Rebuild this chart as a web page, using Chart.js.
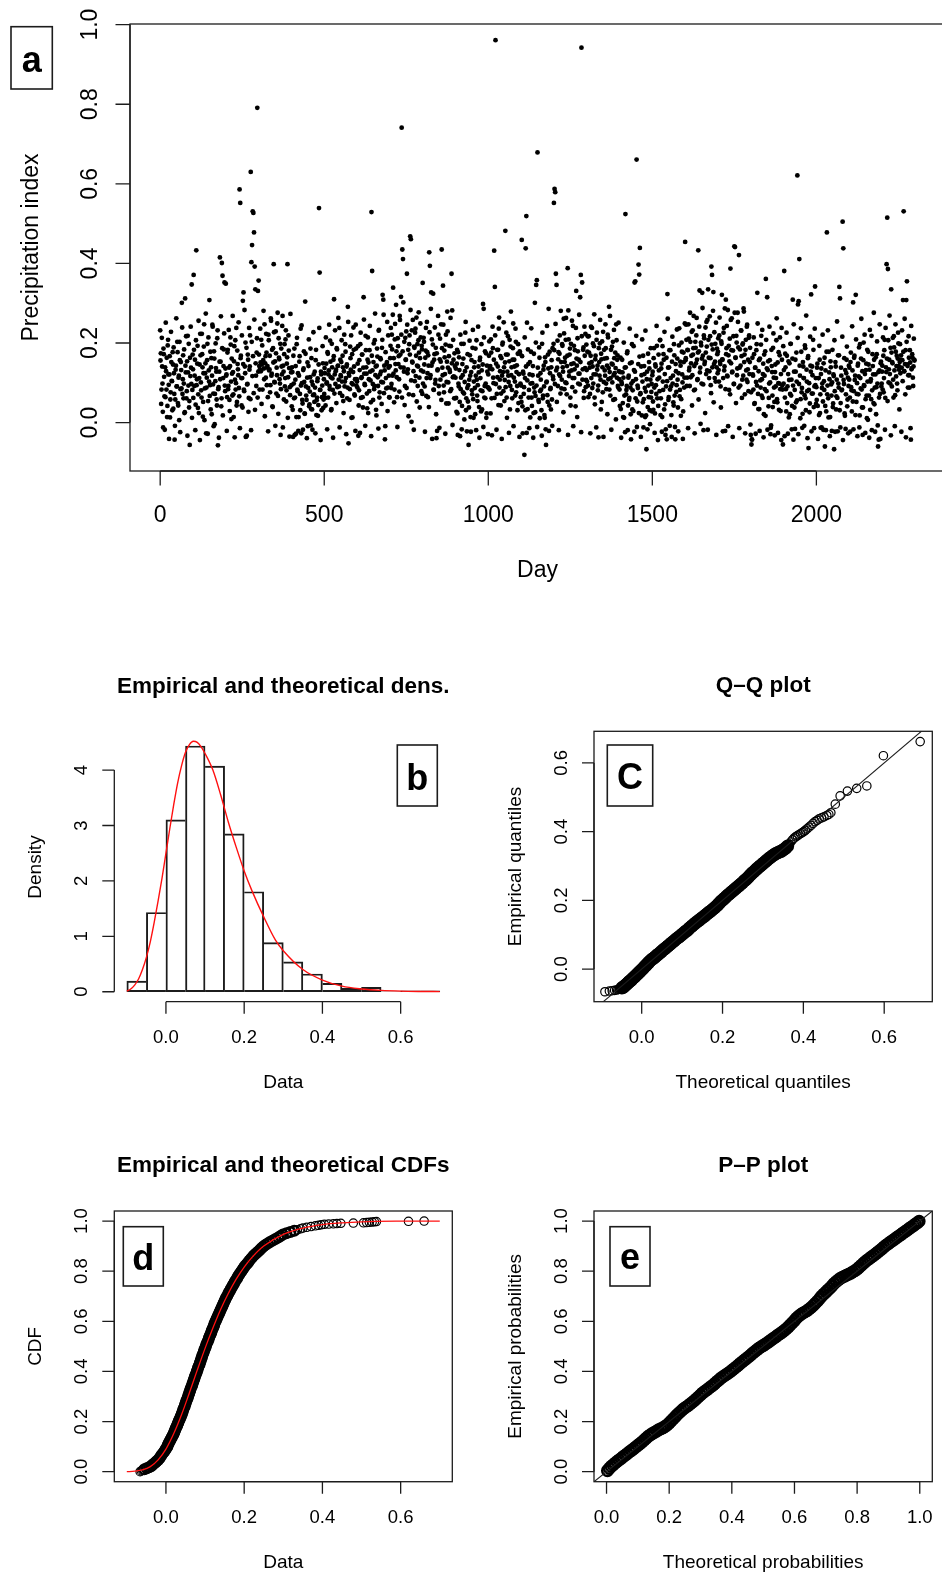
<!DOCTYPE html>
<html>
<head>
<meta charset="utf-8">
<script src="https://cdn.jsdelivr.net/npm/chart.js@4.4.1/dist/chart.umd.min.js"></script>
<style>
html, body { margin: 0; padding: 0; background: #fff; overflow: hidden; }
#page { position: relative; width: 942px; height: 1573px; overflow: hidden; }
canvas { position: absolute; }
</style>
</head>
<body>
<div id="page">
  <canvas id="pa" width="960" height="600" style="left:0px;top:0px"></canvas>
  <canvas id="pb" width="471" height="480" style="left:0px;top:620px"></canvas>
  <canvas id="pc" width="471" height="480" style="left:471px;top:620px"></canvas>
  <canvas id="pd" width="471" height="473" style="left:0px;top:1100px"></canvas>
  <canvas id="pe" width="471" height="473" style="left:471px;top:1100px"></canvas>
</div>
<script>
// panel a: precipitation index x1000, even days (0, 2, 4 ... 2298)
const precipEven = [
  232,174,83,141,27,186,115,-18,64,129,163,42,208,95,121,13,76,152,104,177,35,124,-43,58,143,91,203,49,113,6,157,84,132,301,72,169,98,24,312,126,61,154,218,93,38,-56,117,138,347,82,
  134,371,92,158,45,433,109,193,71,24,146,223,101,63,172,15,124,247,86,149,-27,113,198,54,131,308,94,33,162,118,241,73,179,-4,104,137,58,212,-57,89,128,415,153,41,401,369,112,184,352,79,
  349,121,64,183,92,138,29,214,103,161,68,127,14,192,108,83,238,52,147,119,87,586,552,168,43,112,306,327,79,141,201,-35,-33,97,158,62,133,219,630,403,446,531,527,478,392,335,118,176,791,331,
  357,142,134,151,208,146,83,157,136,247,149,113,176,138,64,221,131,168,94,256,123,41,187,398,102,154,229,73,119,276,22,163,109,198,84,141,243,-12,128,172,91,209,53,148,398,114,181,-35,69,137,
  94,139,32,168,61,-31,108,-28,197,83,124,14,153,72,236,-27,99,48,132,179,23,304,91,57,113,-9,142,41,78,186,34,103,-18,69,121,52,88,157,19,63,111,44,539,377,82,128,31,93,149,58,
  72,124,43,148,101,177,63,131,92,206,114,34,139,82,158,310,121,97,133,187,89,143,108,238,74,119,152,103,168,54,129,91,197,112,141,61,291,-52,118,84,162,219,99,13,127,183,71,109,246,93,
  103,148,-33,81,132,197,62,114,171,38,315,123,94,218,139,73,158,24,109,182,128,51,529,381,97,152,84,207,119,32,143,166,92,231,63,121,159,102,188,321,309,74,131,-9,112,147,253,88,138,64,
  142,193,87,221,118,339,162,83,248,131,179,64,212,147,109,268,171,316,741,435,411,138,203,92,158,229,374,124,183,71,219,468,461,2,153,258,129,191,104,236,168,53,197,141,277,113,162,214,79,184,
  351,128,203,91,163,238,112,177,64,143,428,394,119,327,209,151,324,82,172,98,188,-39,-21,134,221,73,159,108,247,435,138,344,93,181,122,196,48,153,229,101,167,133,79,192,374,282,114,158,61,142,
  113,62,148,23,177,91,132,-34,84,198,42,119,161,73,102,226,31,139,87,53,-56,108,169,14,127,81,188,59,103,152,21,118,207,68,94,141,39,157,112,28,131,79,298,286,63,179,98,12,143,89,
  121,168,83,142,209,61,134,187,99,432,341,961,148,72,114,183,236,88,129,43,162,118,201,79,139,107,482,171,63,128,217,102,154,33,191,119,82,158,249,113,141,68,203,127,92,173,49,122,179,98,
  93,459,41,128,72,-81,112,438,519,251,34,147,82,121,13,178,63,99,142,24,88,301,67,346,358,679,118,52,163,79,108,31,198,61,133,91,12,152,-56,103,69,171,286,43,124,87,139,58,187,109,
  552,587,579,374,346,138,92,177,121,219,73,152,108,193,128,261,84,163,208,99,142,388,282,117,171,63,198,131,89,243,149,112,182,41,331,143,212,98,158,123,315,371,942,352,134,189,79,168,223,107,
  132,178,93,217,149,72,168,112,238,141,98,192,63,159,121,208,133,81,-37,152,199,108,173,52,139,228,102,161,118,187,84,143,221,109,291,127,68,183,148,101,203,119,162,59,137,247,113,169,88,129,
  83,127,34,102,158,49,113,12,138,524,71,92,179,43,118,62,149,21,98,197,81,29,132,352,355,109,661,53,87,397,372,439,74,141,18,103,168,59,122,14,78,-67,128,39,93,152,31,108,63,97,
  119,53,162,88,23,141,72,193,109,42,131,79,208,61,148,14,103,172,33,122,-31,91,-42,323,138,64,182,83,112,19,153,98,51,197,68,-42,129,94,161,38,124,237,82,143,59,178,101,28,152,113,
  454,162,208,113,182,247,131,92,203,149,228,119,171,268,142,83,188,219,158,109,433,179,332,138,201,98,326,168,-19,212,153,239,122,191,258,335,163,129,217,94,392,371,184,328,147,112,198,251,139,172,
  178,132,219,153,91,204,321,158,112,238,141,-21,309,187,118,283,169,82,211,387,149,262,128,181,97,443,441,163,218,119,276,189,421,138,93,232,167,108,199,287,152,71,183,131,241,102,158,213,122,188,
  -31,-55,-43,121,83,172,49,138,102,197,326,72,129,34,161,88,218,109,62,148,21,118,179,361,79,315,132,41,98,157,-29,-7,142,68,188,113,52,127,91,207,59,151,99,32,169,84,122,238,93,-55,
  98,381,63,139,28,168,91,122,13,149,72,198,108,42,309,-43,128,82,158,51,103,621,297,305,411,118,59,178,87,22,141,112,69,187,31,133,79,162,-64,99,48,143,322,73,119,208,39,91,342,112,
  89,138,42,112,19,158,71,122,-12,98,53,149,82,-60,131,28,478,93,61,178,109,14,139,68,101,39,121,-67,79,152,33,108,62,169,88,341,312,49,118,83,505,438,97,23,132,71,158,41,113,92,
  108,63,152,89,28,131,302,79,168,118,321,52,99,143,71,189,18,112,161,83,129,38,201,92,122,59,148,11,103,178,68,133,32,109,218,81,142,49,158,88,121,21,172,98,-60,-43,131,72,149,91,
  128,83,168,112,208,62,139,398,515,386,101,158,122,188,335,91,149,108,217,131,69,178,142,98,161,199,133,152,124,169,138,157,308,531,129,147,182,308,355,142,119,163,88,151,-43,134,172,113,141,158
];
// panel a: precipitation index x1000, odd days (1, 3, 5 ... 2299)
const precipOdd = [
  156,47,213,98,-12,172,66,139,251,83,14,194,121,-41,167,58,228,105,31,146,189,72,-8,133,262,91,177,43,118,203,-24,152,86,239,109,61,184,26,143,217,79,-33,126,198,54,163,241,97,12,171,
  62,183,118,-19,207,94,148,37,256,112,-44,169,81,223,139,52,191,6,124,274,88,157,-28,214,103,67,178,139,21,246,96,-9,161,72,199,128,43,232,84,-38,153,109,267,61,187,18,142,224,93,136,
  118,-21,176,84,233,57,142,196,9,123,268,71,154,-37,207,99,43,181,134,252,66,-14,162,112,219,38,147,83,283,124,-36,188,96,171,27,238,141,59,-19,203,117,167,74,259,32,149,92,212,63,128,
  171,83,236,129,47,194,152,281,109,16,167,223,94,142,-22,207,134,76,262,118,183,39,151,227,101,-8,174,138,249,67,212,159,98,-31,186,121,268,143,58,197,112,232,81,164,12,219,137,89,273,126,
  41,127,-36,98,186,63,142,14,213,79,-21,118,167,31,93,244,57,-18,136,102,22,173,68,-39,151,87,209,46,114,-7,162,33,95,227,71,128,-27,183,56,104,17,146,238,82,-44,121,64,192,37,109,
  137,62,214,98,-17,173,121,246,84,153,31,198,111,-38,167,73,232,129,49,184,142,263,91,-12,158,116,207,67,139,24,221,103,178,-29,146,88,253,124,57,191,133,12,172,96,239,141,68,-21,186,109,
  88,192,43,157,-26,226,112,171,64,138,259,97,-8,182,123,36,214,151,79,243,106,-34,168,131,57,199,92,274,141,18,186,114,-15,233,76,162,128,47,208,101,271,143,-42,177,86,152,29,219,118,63,
  162,238,97,184,271,123,51,209,147,296,114,-11,192,167,78,258,139,221,63,179,302,128,44,213,158,87,246,134,16,197,171,283,106,232,151,69,-18,188,226,117,264,143,92,207,176,38,249,131,193,72,
  98,213,146,-23,181,67,253,124,169,39,227,112,286,143,-41,196,83,158,239,107,21,174,131,268,92,-13,211,153,57,187,119,246,76,164,-28,221,102,279,138,48,193,127,263,84,149,-6,208,116,174,61,
  136,27,183,-31,98,164,52,221,113,-17,147,76,198,8,129,253,61,-22,172,94,38,206,118,-23,157,71,233,12,139,87,186,-19,108,54,241,126,-38,163,81,197,33,146,-11,214,92,61,174,23,128,-29,
  87,204,136,23,176,-32,241,113,158,62,219,97,-18,183,141,44,264,108,167,73,-41,196,127,252,54,151,89,226,12,171,118,-26,208,92,279,139,61,187,-9,158,103,236,76,144,31,197,122,-36,173,64,
  52,167,-27,123,89,214,31,141,-26,106,184,63,-14,152,98,237,42,119,-38,173,76,26,201,93,-11,138,57,189,11,124,83,-33,226,68,143,19,164,-17,101,243,52,136,-21,178,84,33,157,-8,116,198,
  182,97,248,131,52,206,159,-19,173,117,281,86,197,139,26,224,152,101,263,71,168,-31,209,128,186,43,147,256,112,-9,193,134,78,238,161,14,179,123,271,96,152,-24,217,108,183,62,241,137,89,196,
  103,217,64,176,138,-27,241,152,87,199,121,272,46,168,-12,226,143,93,187,118,258,33,159,204,76,-36,183,131,247,98,162,21,214,137,83,268,112,-18,191,146,57,233,124,176,8,207,158,92,251,109,
  42,163,-38,97,126,14,201,68,-24,139,82,174,-19,113,57,236,88,-42,151,33,104,192,-23,128,61,218,-11,93,147,24,166,71,-36,119,209,51,-12,142,87,231,18,109,-17,173,64,136,-4,187,77,28,
  128,32,187,-26,146,94,243,61,-44,171,113,207,19,136,-23,192,82,158,228,46,-17,163,104,261,57,139,-8,182,91,-36,216,118,43,169,-11,147,77,234,108,-22,194,66,153,17,201,121,-41,176,88,249,
  157,246,92,183,-14,211,138,276,114,168,43,232,187,81,-27,203,149,263,107,176,58,241,126,-3,194,161,288,96,219,147,24,176,253,131,-18,208,112,267,162,74,196,139,281,51,227,153,103,-31,186,124,
  212,103,264,147,38,198,159,-22,226,131,287,84,172,243,116,-9,193,154,71,258,182,126,-36,217,97,276,163,49,201,136,253,88,-14,184,143,231,62,196,118,279,171,-27,208,108,246,134,79,219,152,-5,
  76,-42,163,118,214,47,138,-28,182,93,249,34,157,-21,106,196,68,233,122,-37,171,84,17,208,136,-18,154,62,241,101,-13,183,127,39,224,88,-32,146,112,262,51,-26,177,98,214,29,-44,158,83,192,
  132,-34,173,84,226,49,-28,154,107,21,198,68,-17,161,93,247,38,-16,128,176,56,213,-29,97,143,11,237,76,-13,152,112,-8,194,61,269,103,-39,167,82,26,216,128,-22,141,73,183,-14,236,94,47,
  57,148,-41,112,193,24,-13,136,87,221,-18,104,163,42,-19,178,71,232,13,126,-34,154,96,-21,183,48,117,207,-23,141,66,254,-22,98,169,31,-12,138,81,216,-44,107,162,17,-16,124,191,58,-27,143,
  138,-23,176,81,242,53,-17,163,107,19,209,72,-34,148,116,-12,197,86,261,38,-31,157,94,221,-26,132,68,183,7,146,-38,233,103,59,-19,172,121,276,46,-23,164,89,204,-7,127,63,247,-41,153,98,
  143,214,76,182,-18,238,127,161,54,207,134,269,98,-32,176,152,213,63,189,-9,247,116,168,81,226,142,33,197,158,-23,232,104,178,129,261,71,-37,203,146,88,217,119,182,-14,243,137,163,92,211,156
];

// panel b: histogram and fitted density
const binEdges = [-0.1,-0.05,0,0.05,0.1,0.15,0.2,0.25,0.3,0.35,0.4,0.45,0.5,0.55,0.6,0.65,0.7];
const binDensity = [0.19,1.43,3.10,4.435,4.07,2.85,1.805,0.885,0.54,0.32,0.15,0.06,0.08,0.012,0.018,0.018];
const densX = [-0.1,-0.09,-0.08,-0.07,-0.06,-0.05,-0.04,-0.03,-0.02,-0.01,0,0.01,0.02,0.03,0.04,0.05,0.06,0.07,0.08,0.09,0.1,0.12,0.14,0.16,0.18,0.2,0.22,0.25,0.28,0.3,0.35,0.4,0.45,0.5,0.55,0.6,0.65,0.7];
const densY = [0.01,0.05,0.12,0.23,0.4,0.62,0.9,1.25,1.64,2.05,2.5,2.95,3.38,3.77,4.08,4.32,4.46,4.52,4.5,4.42,4.3,4.0,3.55,3.05,2.6,2.18,1.82,1.35,0.93,0.74,0.4,0.21,0.1,0.05,0.024,0.011,0.005,0.002];

// panel c: Q-Q pairs
const qqTheo = [-0.091,-0.080,-0.073,-0.067,-0.062,-0.058,-0.055,-0.052,-0.049,-0.046,-0.043,-0.040,-0.037,-0.034,-0.031,-0.028,-0.025,-0.022,-0.019,-0.016,-0.013,-0.010,-0.007,-0.004,-0.001,0.002,0.005,0.008,0.011,0.014,
  0.017,0.021,0.025,0.029,0.033,0.037,0.041,0.045,0.049,0.053,0.057,0.061,0.065,0.069,0.073,0.077,0.081,0.085,0.089,0.093,0.097,0.101,0.105,0.109,0.113,0.117,0.121,0.125,0.129,0.133,
  0.137,0.141,0.145,0.149,0.153,0.157,0.161,0.165,0.169,0.173,0.177,0.181,0.185,0.189,0.193,0.197,0.201,0.205,0.209,0.213,0.217,0.221,0.225,0.229,0.233,0.237,0.241,0.245,0.249,0.253,
  0.257,0.261,0.265,0.269,0.273,0.277,0.281,0.285,0.289,0.293,0.297,0.301,0.305,0.309,0.313,0.317,0.321,0.325,0.329,0.333,0.337,0.341,0.345,0.349,0.353,0.357,0.361,0.365,0.369,0.373,
  0.377,0.381,0.385,0.389,0.393,0.397,0.401,0.405,0.409,0.414,0.419,0.424,0.429,0.434,0.439,
  0.445,0.451,0.458,0.463,0.468,0.479,0.491,0.509,0.532,0.557,0.598,0.689];
const qqEmp = [-0.066,-0.064,-0.063,-0.062,-0.061,-0.059,-0.058,-0.057,-0.055,-0.053,-0.050,-0.047,-0.044,-0.040,-0.037,-0.034,-0.031,-0.027,-0.024,-0.021,-0.017,-0.014,-0.010,-0.007,-0.003,0.000,0.004,0.008,0.011,0.015,
  0.019,0.024,0.028,0.031,0.035,0.040,0.043,0.047,0.051,0.056,0.059,0.063,0.067,0.071,0.075,0.079,0.083,0.087,0.091,0.094,0.098,0.102,0.106,0.110,0.113,0.118,0.122,0.126,0.130,0.134,
  0.138,0.141,0.145,0.149,0.152,0.156,0.160,0.164,0.167,0.171,0.175,0.179,0.183,0.188,0.193,0.198,0.202,0.206,0.211,0.215,0.219,0.223,0.227,0.231,0.235,0.239,0.243,0.247,0.251,0.256,
  0.260,0.264,0.269,0.274,0.279,0.283,0.287,0.292,0.296,0.300,0.304,0.308,0.312,0.316,0.320,0.324,0.327,0.331,0.334,0.337,0.339,0.341,0.343,0.346,0.349,0.353,0.358,0.364,0.370,0.376,
  0.381,0.385,0.388,0.391,0.394,0.397,0.400,0.404,0.408,0.413,0.418,0.424,0.429,0.433,0.437,
  0.440,0.443,0.447,0.450,0.455,0.480,0.504,0.518,0.526,0.533,0.621,0.662];

// panel d: empirical CDF points and fitted CDF
const ecdfX = [-0.066,-0.063,-0.060,-0.055,-0.049,-0.043,-0.038,-0.035,-0.031,-0.027,-0.024,-0.020,-0.017,-0.014,-0.012,-0.009,-0.006,-0.003,-0.001,0.002,
  0.004,0.005,0.007,0.009,0.011,0.013,0.015,0.017,0.019,0.021,0.022,0.024,0.025,0.027,0.029,0.030,0.032,0.033,0.035,0.037,
  0.038,0.040,0.041,0.043,0.044,0.046,0.048,0.049,0.051,0.052,0.054,0.056,0.057,0.059,0.060,0.062,0.063,0.065,0.067,0.068,
  0.070,0.071,0.073,0.074,0.076,0.078,0.079,0.081,0.082,0.084,0.086,0.087,0.089,0.090,0.092,0.093,0.095,0.097,0.098,0.100,
  0.102,0.103,0.105,0.107,0.109,0.110,0.112,0.114,0.116,0.117,0.119,0.121,0.123,0.124,0.126,0.128,0.130,0.132,0.134,0.136,
  0.138,0.140,0.142,0.144,0.146,0.148,0.150,0.152,0.154,0.157,0.159,0.161,0.164,0.166,0.169,0.171,0.174,0.176,0.179,0.182,
  0.184,0.187,0.190,0.193,0.196,0.199,0.202,0.206,0.210,0.213,0.217,0.221,0.225,0.230,0.235,0.240,0.244,0.249,0.254,0.260,
  0.266,0.273,0.280,0.287,0.293,0.299,0.308,0.318,0.328,0.336,0.344,0.350,0.360,0.371,0.382,0.390,0.397,0.405,0.416,0.428,
  0.437,0.447,0.479,0.505,0.513,0.520,0.527,0.533,0.538,0.620,0.660];
const ecdfP = [0,0.003,0.006,0.010,0.014,0.018,0.022,0.027,0.032,0.037,0.042,0.047,0.053,0.059,0.065,0.071,0.077,0.083,0.089,0.095,
  0.101,0.107,0.113,0.119,0.125,0.131,0.137,0.143,0.149,0.155,0.161,0.167,0.173,0.179,0.185,0.191,0.197,0.203,0.209,0.215,
  0.221,0.227,0.233,0.240,0.247,0.254,0.261,0.268,0.275,0.282,0.289,0.296,0.303,0.310,0.317,0.324,0.331,0.338,0.345,0.352,
  0.359,0.366,0.373,0.380,0.387,0.394,0.401,0.408,0.415,0.422,0.429,0.436,0.443,0.450,0.457,0.464,0.471,0.478,0.485,0.492,
  0.499,0.506,0.513,0.520,0.527,0.534,0.541,0.548,0.555,0.562,0.569,0.576,0.583,0.590,0.597,0.604,0.611,0.618,0.625,0.632,
  0.639,0.646,0.653,0.660,0.667,0.674,0.681,0.688,0.695,0.702,0.709,0.716,0.723,0.730,0.737,0.744,0.751,0.758,0.765,0.772,
  0.779,0.786,0.793,0.800,0.807,0.814,0.821,0.828,0.835,0.842,0.849,0.856,0.863,0.870,0.877,0.884,0.891,0.898,0.904,0.910,
  0.916,0.922,0.928,0.934,0.940,0.946,0.951,0.956,0.961,0.965,0.969,0.972,0.975,0.978,0.981,0.983,0.985,0.987,0.988,0.989,
  0.990,0.991,0.992,0.993,0.994,0.995,0.996,0.997,0.998,0.999,1.000];
const cdfX = [-0.1,-0.08,-0.06,-0.04,-0.02,0,0.02,0.04,0.06,0.08,0.1,0.12,0.14,0.16,0.18,0.2,0.22,0.25,0.3,0.35,0.4,0.45,0.5,0.6,0.7];
const cdfY = [0,0.002,0.007,0.02,0.047,0.09,0.152,0.228,0.315,0.405,0.492,0.573,0.648,0.713,0.769,0.816,0.855,0.9,0.947,0.972,0.986,0.993,0.997,0.9995,1.0];

// panel e: P-P pairs
const ppTheo = [0.003,0.009,0.015,0.021,0.027,0.034,0.040,0.047,0.053,0.060,0.066,0.073,0.080,0.086,0.093,0.100,0.106,0.113,0.120,0.126,
  0.133,0.140,0.146,0.153,0.160,0.166,0.173,0.180,0.186,0.193,0.200,0.206,0.213,0.220,0.226,0.233,0.240,0.246,0.253,0.260,
  0.266,0.273,0.280,0.286,0.293,0.300,0.306,0.313,0.320,0.326,0.333,0.340,0.346,0.353,0.360,0.366,0.373,0.380,0.386,0.393,
  0.400,0.406,0.413,0.420,0.426,0.433,0.440,0.446,0.453,0.460,0.466,0.473,0.480,0.486,0.493,0.500,0.506,0.513,0.520,0.526,
  0.533,0.540,0.546,0.553,0.560,0.566,0.573,0.580,0.586,0.593,0.600,0.606,0.613,0.620,0.626,0.633,0.640,0.646,0.653,0.660,
  0.666,0.673,0.680,0.686,0.693,0.700,0.706,0.713,0.720,0.726,0.733,0.740,0.746,0.753,0.760,0.766,0.773,0.780,0.786,0.793,
  0.800,0.806,0.813,0.820,0.826,0.833,0.840,0.846,0.853,0.860,0.866,0.873,0.880,0.886,0.893,0.900,0.906,0.913,0.920,0.926,
  0.933,0.940,0.946,0.953,0.960,0.966,0.973,0.980,0.986,0.993,0.998];
const ppEmp = [0.004,0.013,0.021,0.027,0.034,0.041,0.047,0.053,0.060,0.066,0.072,0.079,0.085,0.091,0.098,0.105,0.111,0.118,0.126,0.133,
  0.141,0.147,0.152,0.157,0.162,0.167,0.171,0.175,0.180,0.186,0.194,0.202,0.211,0.220,0.228,0.236,0.244,0.251,0.257,0.263,
  0.269,0.276,0.283,0.290,0.298,0.306,0.313,0.320,0.326,0.332,0.339,0.345,0.352,0.360,0.367,0.374,0.380,0.386,0.391,0.397,
  0.404,0.410,0.417,0.424,0.431,0.438,0.445,0.451,0.458,0.465,0.472,0.479,0.486,0.492,0.498,0.503,0.508,0.514,0.520,0.526,
  0.532,0.538,0.544,0.550,0.556,0.562,0.569,0.577,0.585,0.594,0.603,0.612,0.620,0.627,0.632,0.637,0.642,0.648,0.655,0.663,
  0.671,0.680,0.690,0.699,0.708,0.716,0.724,0.732,0.741,0.750,0.758,0.765,0.771,0.776,0.780,0.784,0.788,0.792,0.797,0.802,
  0.808,0.815,0.823,0.831,0.838,0.845,0.851,0.857,0.863,0.870,0.876,0.883,0.890,0.897,0.904,0.910,0.916,0.922,0.928,0.934,
  0.940,0.946,0.952,0.958,0.964,0.970,0.976,0.982,0.988,0.994,0.999];

const FONT = '"Liberation Sans", Arial, Helvetica, sans-serif';
const ink = '#1c1c1c';

function vText(ctx, txt, x, y) {
  ctx.save();
  ctx.translate(x, y);
  ctx.rotate(-Math.PI / 2);
  ctx.fillText(txt, 0, 0);
  ctx.restore();
}

// R-style axes, titles and panel tag
const rPlot = {
  id: 'rPlot',
  afterDatasetsDraw(chart, args, o) {
    const ctx = chart.ctx, a = chart.chartArea;
    const xs = chart.scales.x, ys = chart.scales.y;
    ctx.save();
    ctx.strokeStyle = ink;
    ctx.fillStyle = '#000';
    ctx.lineWidth = 1.3;
    if (o.box) ctx.strokeRect(a.left, a.top, a.right - a.left, a.bottom - a.top);
    const xp = o.xTicks.map(v => xs.getPixelForValue(v));
    const yp = o.yTicks.map(v => ys.getPixelForValue(v));
    ctx.beginPath();
    ctx.moveTo(xp[0], a.bottom); ctx.lineTo(xp[xp.length - 1], a.bottom);
    xp.forEach(p => { ctx.moveTo(p, a.bottom); ctx.lineTo(p, a.bottom + o.tick); });
    ctx.moveTo(a.left, yp[0]); ctx.lineTo(a.left, yp[yp.length - 1]);
    yp.forEach(p => { ctx.moveTo(a.left, p); ctx.lineTo(a.left - o.tick, p); });
    ctx.stroke();

    ctx.textAlign = 'center';
    ctx.textBaseline = 'alphabetic';
    ctx.font = o.tickSize + 'px ' + FONT;
    xp.forEach((p, i) => ctx.fillText(o.xLabels[i], p, a.bottom + o.xLabelY));
    yp.forEach((p, i) => vText(ctx, o.yLabels[i], a.left - o.yLabelX, p));

    const cx = (a.left + a.right) / 2, cy = (a.top + a.bottom) / 2;
    ctx.font = o.titleSize + 'px ' + FONT;
    ctx.fillText(o.xTitle, cx, a.bottom + o.xTitleY);
    vText(ctx, o.yTitle, a.left - o.yTitleX, cy);
    if (o.main) {
      ctx.font = 'bold 22.5px ' + FONT;
      ctx.fillText(o.main, cx, a.top - o.mainY);
    }
    const t = o.tag;
    ctx.lineWidth = 1.6;
    ctx.strokeRect(t.x, t.y, t.w, t.h);
    ctx.font = 'bold 36px ' + FONT;
    ctx.fillText(t.text, t.x + t.w / 2, t.base);
    ctx.restore();
  }
};

function rChart(id, type, datasets, xr, yr, pad, axes) {
  return new Chart(document.getElementById(id), {
    type: type,
    data: { datasets: datasets },
    options: {
      responsive: false,
      animation: false,
      events: [],
      layout: { padding: pad },
      scales: {
        x: { type: 'linear', min: xr[0], max: xr[1], offset: false, display: false },
        y: { type: 'linear', min: yr[0], max: yr[1], display: false }
      },
      plugins: { legend: { display: false }, tooltip: { enabled: false }, rPlot: axes }
    },
    plugins: [rPlot]
  });
}

const small = { tick: 12, tickSize: 18.5, titleSize: 19, xLabelY: 41.3, yLabelX: 27, xTitleY: 86, yTitleX: 73, mainY: 39.5 };
const pairs = (xs, ys) => xs.map((x, i) => ({ x: x, y: ys[i] }));
// open circles; where the sample is dense the circles pile up into a solid band
function circles(isDense, r, w) {
  return {
    pointBackgroundColor: 'rgba(0,0,0,0)', pointBorderColor: '#000',
    pointRadius: c => isDense(c.dataIndex) ? r : 4.2,
    pointBorderWidth: c => isDense(c.dataIndex) ? w : 1.2
  };
}

// a
const dayPoints = [];
precipEven.forEach((v, i) => dayPoints.push({ x: 2 * i, y: v / 1000 }));
precipOdd.forEach((v, i) => dayPoints.push({ x: 2 * i + 1, y: v / 1000 }));
rChart('pa', 'scatter', [{
  data: dayPoints, pointRadius: 2.4, pointBackgroundColor: '#000', pointBorderWidth: 0
}], [-92, 2392], [-0.1216, 1.0016], { left: 130, right: 15, top: 24, bottom: 129 }, {
  box: true, tick: 14.5, tickSize: 23, titleSize: 23,
  xTicks: [0, 500, 1000, 1500, 2000], xLabels: ['0', '500', '1000', '1500', '2000'],
  yTicks: [0, 0.2, 0.4, 0.6, 0.8, 1.0], yLabels: ['0.0', '0.2', '0.4', '0.6', '0.8', '1.0'],
  xLabelY: 51.3, yLabelX: 33, xTitleY: 106, yTitleX: 92,
  xTitle: 'Day', yTitle: 'Precipitation index',
  tag: { x: 11, y: 26.7, w: 41.3, h: 62.3, base: 72, text: 'a' }
});

// b: shared bar edges drawn once, by the taller neighbour
const bw = 1.3;
rChart('pb', 'bar', [
  {
    type: 'line', data: pairs(densX, densY), borderColor: '#ff1010', borderWidth: 1.4,
    pointRadius: 0, cubicInterpolationMode: 'monotone', fill: false
  },
  {
    type: 'bar',
    data: binDensity.map((d, i) => ({ x: (binEdges[i] + binEdges[i + 1]) / 2, y: d })),
    backgroundColor: 'rgba(0,0,0,0)', borderColor: ink, borderSkipped: false,
    borderWidth: c => {
      const i = c.dataIndex, d = binDensity;
      return {
        top: bw, bottom: bw,
        left: i > 0 && d[i - 1] >= d[i] ? 0 : bw,
        right: i < d.length - 1 && d[i + 1] > d[i] ? 0 : bw
      };
    },
    categoryPercentage: 1, barPercentage: 1
  }
], [-0.132, 0.732], [-0.18, 4.68], { left: 114.3, right: 18.7, top: 112.4, bottom: 98.3 }, Object.assign({}, small, {
  box: false,
  xTicks: [0, 0.2, 0.4, 0.6], xLabels: ['0.0', '0.2', '0.4', '0.6'],
  yTicks: [0, 1, 2, 3, 4], yLabels: ['0', '1', '2', '3', '4'],
  xTitle: 'Data', yTitle: 'Density', main: 'Empirical and theoretical dens.',
  tag: { x: 397.3, y: 125, w: 40, h: 61, base: 170, text: 'b' }
}));

// c
rChart('pc', 'scatter', [
  { type: 'line', data: [{ x: -0.2, y: -0.2 }, { x: 0.8, y: 0.8 }], borderColor: ink, borderWidth: 1.1, pointRadius: 0 },
  Object.assign({ data: pairs(qqTheo, qqEmp) }, circles(i => qqTheo[i] > -0.05 && qqTheo[i] < 0.362, 5.2, 2.8))
], [-0.118, 0.719], [-0.095, 0.692], { left: 123, right: 9.7, top: 111.3, bottom: 98.3 }, Object.assign({}, small, {
  box: true,
  xTicks: [0, 0.2, 0.4, 0.6], xLabels: ['0.0', '0.2', '0.4', '0.6'],
  yTicks: [0, 0.2, 0.4, 0.6], yLabels: ['0.0', '0.2', '0.4', '0.6'],
  xTitle: 'Theoretical quantiles', yTitle: 'Empirical quantiles', main: 'Q\u2013Q plot',
  tag: { x: 136.3, y: 125, w: 45.4, h: 61, base: 169.3, text: 'C' }
}));

// d
rChart('pd', 'scatter', [
  {
    type: 'line', data: pairs(cdfX, cdfY), borderColor: '#ff1010', borderWidth: 1.3,
    pointRadius: 0, cubicInterpolationMode: 'monotone', fill: false
  },
  Object.assign({ data: pairs(ecdfX, ecdfP) }, circles(i => ecdfX[i] > -0.058 && ecdfX[i] < 0.33, 4.8, 2.4))
], [-0.132, 0.732], [-0.04, 1.04], { left: 114.3, right: 18.7, top: 111, bottom: 91.3 }, Object.assign({}, small, {
  box: true,
  xTicks: [0, 0.2, 0.4, 0.6], xLabels: ['0.0', '0.2', '0.4', '0.6'],
  yTicks: [0, 0.2, 0.4, 0.6, 0.8, 1.0], yLabels: ['0.0', '0.2', '0.4', '0.6', '0.8', '1.0'],
  xTitle: 'Data', yTitle: 'CDF', main: 'Empirical and theoretical CDFs',
  tag: { x: 123.3, y: 126.7, w: 40, h: 59.3, base: 170, text: 'd' }
}));

// e
rChart('pe', 'scatter', [
  { type: 'line', data: [{ x: -0.04, y: -0.04 }, { x: 1.04, y: 1.04 }], borderColor: ink, borderWidth: 1.1, pointRadius: 0 },
  Object.assign({ data: pairs(ppTheo, ppEmp) }, circles(i => true, 5.2, 2.6))
], [-0.04, 1.04], [-0.04, 1.04], { left: 123, right: 9.7, top: 111, bottom: 91.3 }, Object.assign({}, small, {
  box: true,
  xTicks: [0, 0.2, 0.4, 0.6, 0.8, 1.0], xLabels: ['0.0', '0.2', '0.4', '0.6', '0.8', '1.0'],
  yTicks: [0, 0.2, 0.4, 0.6, 0.8, 1.0], yLabels: ['0.0', '0.2', '0.4', '0.6', '0.8', '1.0'],
  xTitle: 'Theoretical probabilities', yTitle: 'Empirical probabilities', main: 'P\u2013P plot',
  tag: { x: 139, y: 126.7, w: 40, h: 59.3, base: 169.3, text: 'e' }
}));
</script>
</body>
</html>
